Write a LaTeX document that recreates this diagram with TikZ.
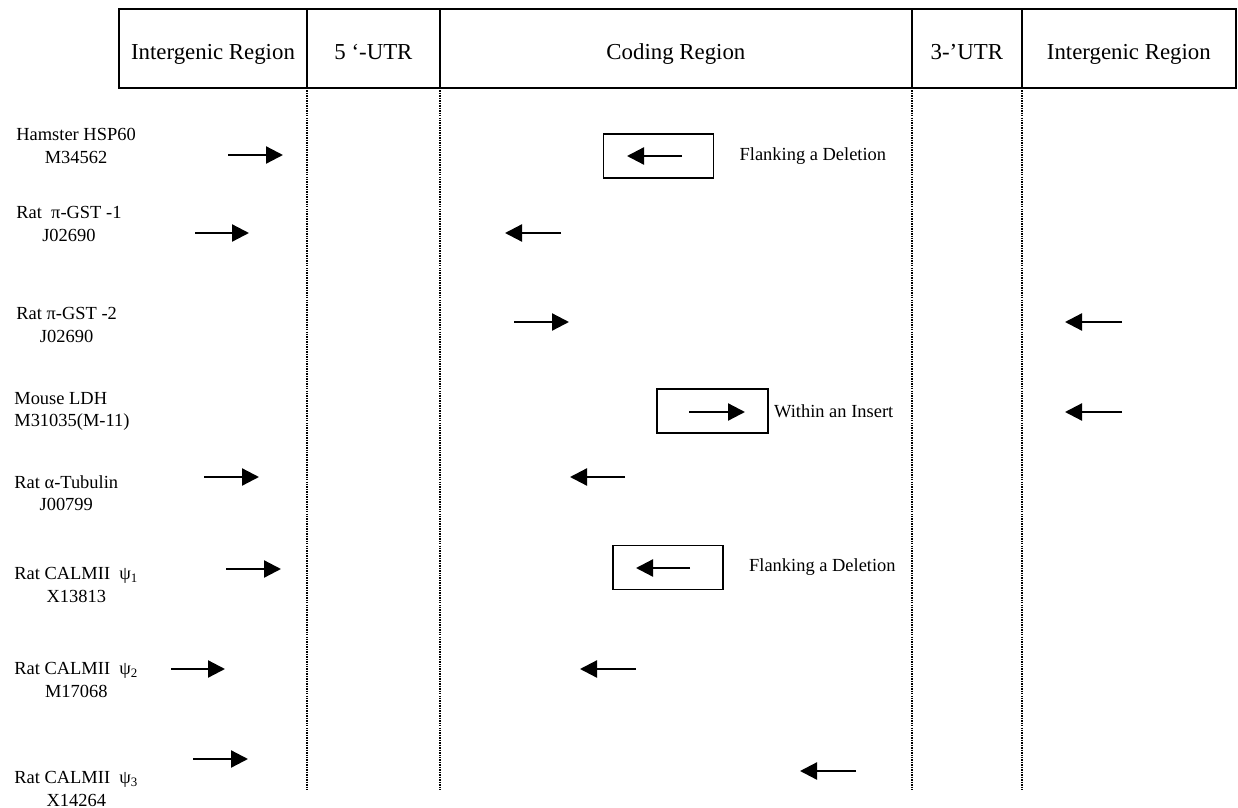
\documentclass[tikz,border=0pt]{standalone}
\usepackage{fontspec}
\setmainfont{Liberation Serif}
\usetikzlibrary{arrows.meta,positioning}
\tikzset{
  cell/.style={draw,line width=0.9pt,outer sep=0pt,inner sep=0pt,minimum height=1.58cm,text height=0.46cm,text depth=0pt,font=\fontsize{13}{15.6}\selectfont},
  gene/.style={anchor=west,inner sep=0pt,align=center,font=\fontsize{10.5}{12.6}\selectfont},
  note/.style={inner sep=0pt,font=\fontsize{10.5}{12.6}\selectfont},
  boxed/.style={draw,line width=0.9pt,minimum width=2.2cm,minimum height=0.88cm,inner sep=0pt},
  sep/.style={line width=0.9pt,dash pattern=on 0.8pt off 0.6pt},
  dir/.style={-{Triangle[length=0.34cm,width=0.34cm]},line width=1.3pt},
}
\begin{document}
\begin{tikzpicture}[x=0.02cm,y=-0.02cm]
  \useasboundingbox (0,0) rectangle (1238,808);
  % header
  \node[cell,minimum width=3.76cm] (c1) at (213,48.5) {Intergenic Region};
  \node[cell,minimum width=2.66cm,right=0pt of c1] (c2) {5 ‘-UTR};
  \node[cell,minimum width=9.44cm,right=0pt of c2] (c3) {Coding Region};
  \node[cell,minimum width=2.2cm,right=0pt of c3] (c4) {3-’UTR};
  \node[cell,minimum width=4.28cm,right=0pt of c4] (c5) {Intergenic Region};
  \coordinate (bot) at (0,790);
  \foreach \c in {c1,c2,c3,c4}
    \draw[sep] (\c.south east) -- (\c.south east |- bot);
  % genes
  \node[gene] (g1) at (16,146) {Hamster HSP60\\M34562};
  \node[gene] (g2) at (16,224) {Rat\ \ π-GST -1\\J02690};
  \node[gene] (g3) at (16,325) {Rat π-GST -2\\J02690};
  \node[gene,align=left] (g4) at (14,411) {Mouse LDH\\M31035(M-11)};
  \node[gene] (g5) at (14,493) {Rat α-Tubulin\\J00799};
  \node[gene] (g6) at (14,585) {Rat CALMII\ \ ψ\textsubscript{1}\\X13813};
  \node[gene] (g7) at (14,680) {Rat CALMII\ \ ψ\textsubscript{2}\\M17068};
  \node[gene] (g8) at (14,789) {Rat CALMII\ \ ψ\textsubscript{3}\\X14264};
  % boxed repeats
  \node[boxed] (b1) at (658.5,156) {};
  \node[boxed,minimum width=2.22cm] (b4) at (712.5,411) {};
  \node[boxed] (b6) at (668,567.5) {};
  \node[note,anchor=west,right=0.5cm of b1] (n1) {Flanking a Deletion};
  \node[note,anchor=west,right=0.1cm of b4] (n4) {Within an Insert};
  \node[note,anchor=west,right=0.5cm of b6] (n6) {Flanking a Deletion};
  % repeat orientation
  \foreach \n/\xa/\xb/\y in {
      i1/228/283/155, i2/195/249/233, i5/204/259/477,
      i6/226/281/569, i7/171/225/669, i8/193/248/759,
      k1/682/627/156, k2/561/505/233, k3/514/569/322,
      k4/689/745/412, k5/625/570/477, k6/690/636/568,
      k7/636/580/669, k8/856/800/771,
      r3/1122/1065/322, r4/1122/1065/412}{
    \coordinate (\n s) at (\xa,\y);
    \coordinate (\n e) at (\xb,\y);
    \draw[dir] (\n s) -- (\n e);
  }
\end{tikzpicture}
\end{document}
